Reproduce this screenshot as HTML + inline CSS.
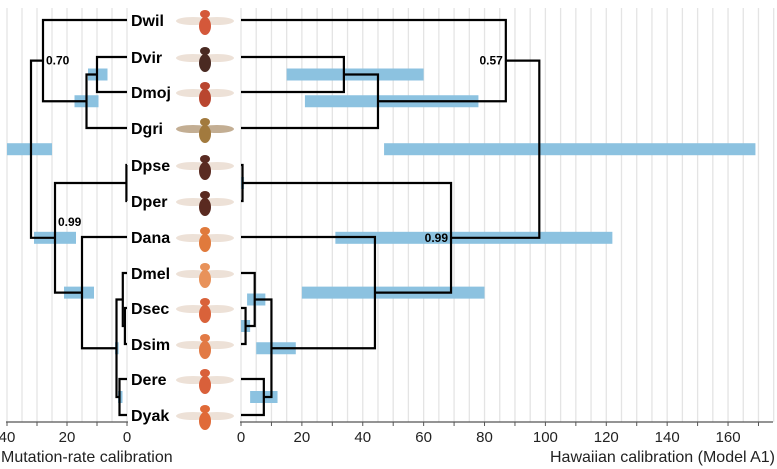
<!DOCTYPE html>
<html><head><meta charset="utf-8"><style>
body{margin:0;background:#fff}
svg{display:block;font-family:"Liberation Sans",sans-serif}
</style></head><body>
<svg id="c" width="777" height="469"></svg>
<script>
const taxa=["Dwil","Dvir","Dmoj","Dgri","Dpse","Dper","Dana","Dmel","Dsec","Dsim","Dere","Dyak"];
const tipY=[20,57,92,128,165,201,237,273,308,344,379,415];
const nodeKids=[["t1","t2"],["n0","t3"],["t0","n1"],["t4","t5"],["t8","t9"],["t7","n4"],["t10","t11"],["n5","n6"],["t6","n7"],["n3","n8"],["n2","n9"]];
const leftAges=[10,13.5,28,0.2,0.7,1.4,2.5,3.5,15,24,32];
const rightAges=[33.8,45,87,0.5,1.5,4.5,7.5,10,44,69,98];
const leftBarLo=[6.5,9.5,null,null,null,null,1.5,2.8,11,17,25];
const leftBarHi=[13,17.5,null,null,null,null,3,4,21,31,40];
const rightBarLo=[15,21,null,0,0,2,3,5,20,31,47];
const rightBarHi=[60,78,null,1,3,8,12,18,80,122,169];
const leftTicks=[0,20,40];
const rightTicks=[0,20,40,60,80,100,120,140,160];
const support=[{node:2,label:"0.70",side:"L",dy:4},{node:9,label:"0.99",side:"L",dy:-12},{node:2,label:"0.57",side:"R",dy:4},{node:9,label:"0.99",side:"R",dy:4}];
const bodyCol=["#d4583a","#4a2a22","#b9462f","#a27a3e","#5a2b22","#5a2a20","#e07a3c","#e8925a","#d9623a","#e27a45","#d9603a","#e06a38"];

const svg=document.getElementById('c');const NS="http://www.w3.org/2000/svg";
function mk(t,a,p){const e=document.createElementNS(NS,t);for(const k in a)e.setAttribute(k,a[k]);(p||svg).appendChild(e);return e;}
const xL=a=>127-3*a, xR=a=>241+3.044*a;
const AX=422;
for(let v=0;v<=40;v+=5){const g=mk('line',{x1:xL(v),x2:xL(v),y1:8,y2:AX,stroke:'#e4e4e4','stroke-width':1.3});
}
for(let v=0;v<=175;v+=5){const g=mk('line',{x1:xR(v),x2:xR(v),y1:8,y2:AX,stroke:'#e4e4e4','stroke-width':1.3});
}
function yOf(id){if(id[0]=='t')return tipY[+id.slice(1)];return nodeY(+id.slice(1));}
function nodeY(i){return (yOf(nodeKids[i][0])+yOf(nodeKids[i][1]))/2;}
function tree(ages,lo,hi,xf,side){
  ages.forEach((a,i)=>{if(lo[i]==null)return;const x1=xf(lo[i]),x2=xf(hi[i]);
    const b=mk('rect',{x:Math.min(x1,x2),y:nodeY(i)-6,width:Math.max(3,Math.abs(x2-x1)),height:12,fill:'#8cc2e0'});
    });
  const age=id=>id[0]=='t'?0:ages[+id.slice(1)];
  ages.forEach((a,i)=>{const x=xf(a),y=nodeY(i);let d='';
    nodeKids[i].forEach(k=>{const cy=yOf(k),cx=xf(age(k));d+=`M${x},${y}V${cy}H${cx}`;});
    const p=mk('path',{d:d,fill:'none',stroke:'#000','stroke-width':2.2});
    });
}
tree(leftAges,leftBarLo,leftBarHi,xL,'left');
tree(rightAges,rightBarLo,rightBarHi,xR,'right');
support.forEach(s=>{const y=nodeY(s.node);let t;
  if(s.side=='L')t=mk('text',{x:xL(leftAges[s.node])+3,y:y+s.dy,'font-size':12,'font-weight':'bold'});
  else t=mk('text',{x:xR(rightAges[s.node])-3,y:y+s.dy,'font-size':12,'font-weight':'bold','text-anchor':'end'});
  t.textContent=s.label;});
taxa.forEach((n,i)=>{const t=mk('text',{x:131,y:tipY[i]+6,'font-size':16,'font-weight':'bold'});t.textContent=n;
  
  const g=mk('g',{});
  const cy=tipY[i];
  mk('ellipse',{cx:193,cy:cy+1,rx:17,ry:4,fill:i==3?'#b8a080':'#eadcd0',opacity:.85},g);
  mk('ellipse',{cx:217,cy:cy+1,rx:17,ry:4,fill:i==3?'#b8a080':'#eadcd0',opacity:.85},g);
  mk('ellipse',{cx:205,cy:cy-6,rx:5,ry:4,fill:bodyCol[i]},g);
  mk('ellipse',{cx:205,cy:cy+6,rx:6,ry:9,fill:bodyCol[i]},g);
});
function axis(xf,ticks,x0,x1,minor,name){
  const l=mk('line',{x1:x0,x2:x1,y1:AX,y2:AX,stroke:'#555','stroke-width':1.2});
  for(let v=0;v<=minor[0];v+=minor[1]){const m=mk('line',{x1:xf(v),x2:xf(v),y1:AX,y2:AX+4,stroke:'#555'});}
  ticks.forEach(v=>{const t=mk('text',{x:xf(v),y:442,'font-size':15,'text-anchor':'middle',fill:'#222'});t.textContent=v;
    });
}
axis(xL,leftTicks,6,128,[40,10],'left-axis');
axis(xR,rightTicks,240,773,[175,10],'right-axis');
let t=mk('text',{x:1,y:462,'font-size':16,fill:'#222'});t.textContent='Mutation-rate calibration';

t=mk('text',{x:775,y:462,'font-size':16,fill:'#222','text-anchor':'end'});t.textContent='Hawaiian calibration (Model A1)';

</script>
</body></html>
